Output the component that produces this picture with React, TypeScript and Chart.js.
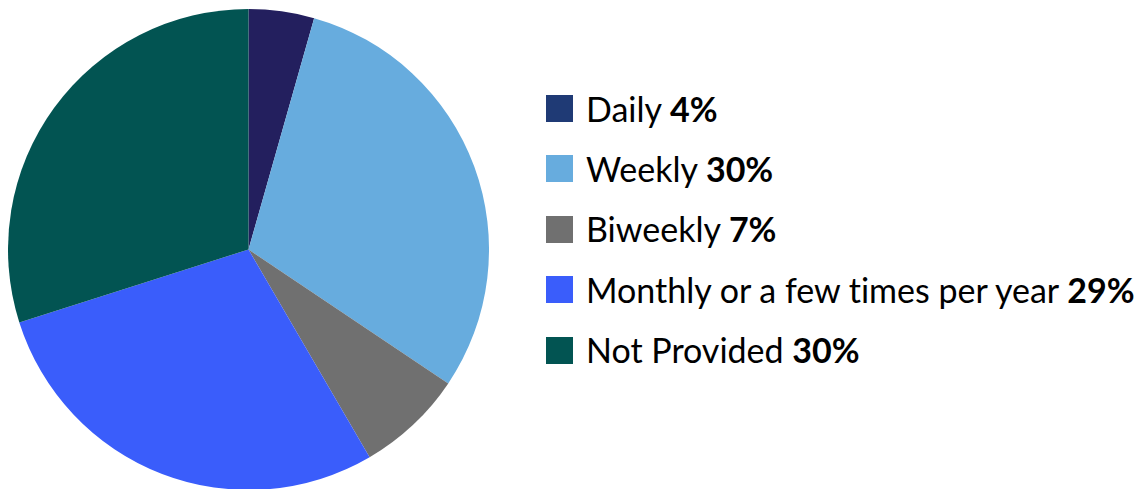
import React, { useEffect, useRef } from "react";
import { Chart, registerables } from "chart.js";

Chart.register(...registerables);

const categories = ["Daily", "Weekly", "Biweekly", "Monthly or a few times per year", "Not Provided"];
const shares = [4.4, 30.0, 7.2, 28.5, 29.9];
const shareLabels = ["4%", "30%", "7%", "29%", "30%"];
const sliceColors = ["#231F5E", "#67ACDE", "#707070", "#3A5DFB", "#025452"];
const legendColors = ["#1F3A75", "#67ACDE", "#707070", "#3A5DFB", "#025452"];

export default function App() {
  const ref = useRef<HTMLCanvasElement>(null);

  useEffect(() => {
    if (!ref.current) return;
    const chart = new Chart(ref.current, {
      type: "pie",
      data: {
        labels: categories,
        datasets: [
          {
            data: shares,
            backgroundColor: sliceColors,
            borderWidth: 0,
          },
        ],
      },
      options: {
        animation: false,
        responsive: false,
        maintainAspectRatio: false,
        layout: { padding: 0 },
        plugins: {
          legend: { display: false },
          tooltip: { enabled: false },
        },
      },
    });
    return () => chart.destroy();
  }, []);

  return (
    <div
      style={{
        position: "fixed",
        left: 0,
        top: 0,
        width: 1147,
        height: 489,
        overflow: "hidden",
        background: "#fff",
        fontFamily: "Lato, 'Noto Sans', sans-serif",
        fontVariantLigatures: "none",
      }}
    >
      <canvas
        ref={ref}
        width={481}
        height={481}
        style={{ position: "absolute", left: 8, top: 9, width: 481, height: 481 }}
      />
      {categories.map((c, i) => (
        <div
          key={c}
          style={{
            position: "absolute",
            left: 546,
            top: 108.5 + i * 60.4 - 20,
            height: 40,
            display: "flex",
            alignItems: "center",
            whiteSpace: "nowrap",
          }}
        >
          <div style={{ width: 27, height: 27, background: legendColors[i], marginRight: 13, flexShrink: 0 }} />
          <span style={{ fontSize: 34, color: "#000", lineHeight: "40px", fontVariantLigatures: "none" }}>
            {c} <b>{shareLabels[i]}</b>
          </span>
        </div>
      ))}
    </div>
  );
}
